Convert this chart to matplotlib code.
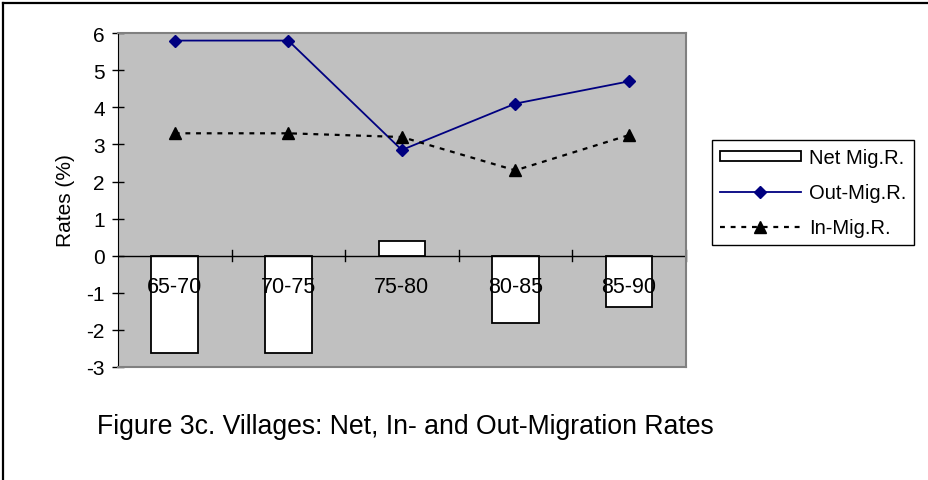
import matplotlib
matplotlib.use("Agg")
import matplotlib.pyplot as plt
from matplotlib.lines import Line2D
import numpy as np

plt.rcParams['font.family'] = ['Liberation Sans', 'DejaVu Sans']
plt.rcParams['axes.unicode_minus'] = False

periods = ["65-70", "70-75", "75-80", "80-85", "85-90"]
net_mig = [-2.63, -2.63, 0.39, -1.82, -1.39]
out_mig = [5.8, 5.8, 2.85, 4.1, 4.7]
in_mig = [3.3, 3.3, 3.2, 2.3, 3.25]

fig = plt.figure(figsize=(9.29, 4.81), dpi=100)
ax = fig.add_axes([0.127, 0.235, 0.611, 0.694])
ax.set_facecolor('#c0c0c0')

x = np.arange(len(periods))
bars = ax.bar(x, net_mig, width=0.41, color='white', edgecolor='black',
              linewidth=1.3, label='Net Mig.R.', zorder=2)
l_out, = ax.plot(x, out_mig, color='#000080', linewidth=1.3, marker='D',
                 markersize=6.5, label='Out-Mig.R.', zorder=3)
l_in, = ax.plot(x, in_mig, color='black', linewidth=1.6, dashes=(2.2, 2.6),
                marker='^', markersize=9, label='In-Mig.R.', zorder=3)

ax.set_xlim(-0.5, len(periods) - 0.5)
ax.set_ylim(-3, 6)
ax.set_yticks(range(-3, 7))
ax.tick_params(axis='y', direction='inout', length=9, width=1,
               labelsize=15, pad=5)

# category axis sits on the zero line
ax.axhline(0, color='black', linewidth=1, zorder=2.5)
ax.set_xticks([])
for b in np.arange(0.5, len(periods), 1.0):
    ax.plot([b, b], [-0.15, 0.15], color='black', linewidth=1, zorder=2.5,
            clip_on=False)
for i, p in enumerate(periods):
    ax.text(i, -0.84, p, ha='center', va='center', fontsize=15.5, zorder=4)

ax.set_ylabel("Rates (%)", fontsize=15, labelpad=8)

ax.spines['left'].set_color('black')
for s in ['top', 'right', 'bottom']:
    ax.spines[s].set_color('#808080')
    ax.spines[s].set_linewidth(1.5)

leg = ax.legend([bars, l_out, l_in], ['Net Mig.R.', 'Out-Mig.R.', 'In-Mig.R.'],
                loc='upper left', bbox_to_anchor=(712 / 929, 1 - 141 / 481),
                bbox_transform=fig.transFigure, fontsize=14.5, frameon=True,
                fancybox=False, edgecolor='black', framealpha=1,
                handlelength=4.0, handleheight=0.4, labelspacing=0.8,
                borderpad=0.4, handletextpad=0.4, borderaxespad=0)
leg.get_frame().set_linewidth(1)

fig.text(97 / 929, 1 - 427 / 481,
         "Figure 3c. Villages: Net, In- and Out-Migration Rates",
         fontsize=19.2, ha='left', va='center')

fig.add_artist(Line2D([3.5 / 929, 3.5 / 929], [0, 1 - 3.5 / 481],
                      transform=fig.transFigure, color='black', linewidth=1.6))
fig.add_artist(Line2D([3.5 / 929, 1], [1 - 3.5 / 481, 1 - 3.5 / 481],
                      transform=fig.transFigure, color='black', linewidth=1.6))

fig.savefig("out.png", dpi=100)
